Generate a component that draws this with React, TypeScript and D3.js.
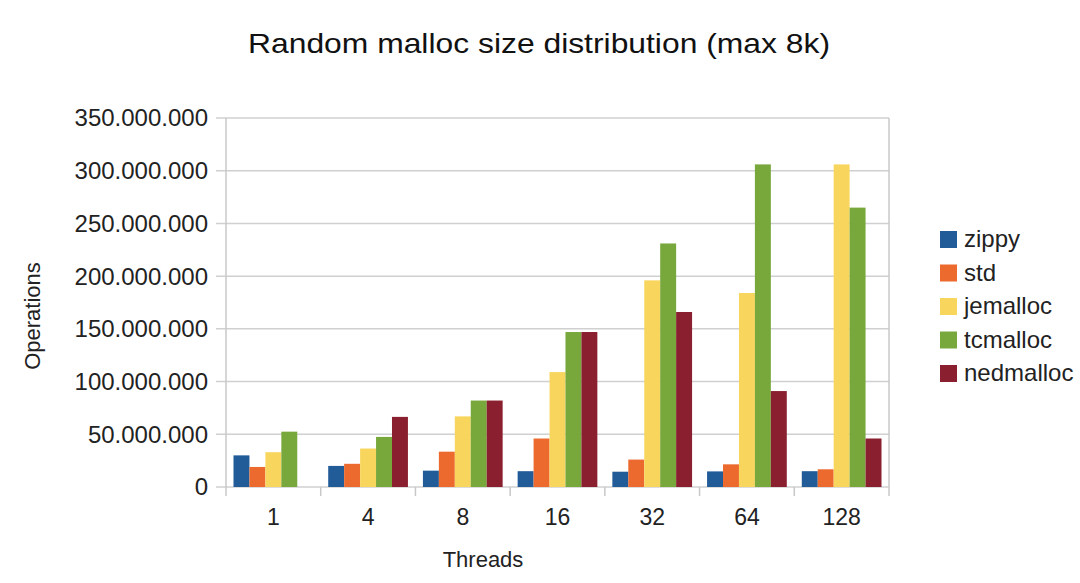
import { useRef, useEffect } from 'react';
import * as d3 from 'd3';

const threads = ['1', '4', '8', '16', '32', '64', '128'];
const seriesNames = ['zippy', 'std', 'jemalloc', 'tcmalloc', 'nedmalloc'];
const zippy = [30e6, 20e6, 15.5e6, 15e6, 14.5e6, 14.8e6, 15e6];
const std = [19e6, 22e6, 33.5e6, 46e6, 26e6, 21.5e6, 16.8e6];
const jemalloc = [33e6, 36.5e6, 67e6, 109e6, 196e6, 184e6, 306e6];
const tcmalloc = [52.5e6, 47.5e6, 82e6, 147e6, 231e6, 306e6, 265e6];
const nedmalloc = [0, 66.5e6, 82e6, 147e6, 166e6, 91e6, 46e6];
const colors = ['#215b98', '#ec6a2e', '#f8d65e', '#78a83c', '#8a1f2f'];
const yTicks = [0, 50e6, 100e6, 150e6, 200e6, 250e6, 300e6, 350e6];

export default function App() {
  const svgRef = useRef<SVGSVGElement>(null);

  useEffect(() => {
    const W = 1080;
    const H = 583;
    const left = 226;
    const top = 118;
    const w = 663;
    const h = 369;
    const font = '"Liberation Sans", Arial, sans-serif';

    const svg = d3.select(svgRef.current).attr('width', W).attr('height', H);
    svg.selectAll('*').remove();
    svg.append('rect').attr('width', W).attr('height', H).attr('fill', '#fff');

    const values = [zippy, std, jemalloc, tcmalloc, nedmalloc];
    const rows = threads.map((t, i) => ({
      t,
      vals: seriesNames.map((s, j) => ({ s, c: colors[j], v: values[j][i] })),
    }));

    const x0 = d3.scaleBand().domain(threads).range([0, w]);
    const bw = x0.bandwidth();
    const x1 = d3.scaleBand().domain(seriesNames).range([7.5, bw - 7.5]);
    const y = d3.scaleLinear().domain([0, 350e6]).range([h, 0]);

    const fmt = d3
      .formatLocale({ decimal: ',', thousands: '.', grouping: [3], currency: ['', ''] })
      .format(',d');

    const g = svg.append('g').attr('transform', `translate(${left},${top})`);

    // gridlines
    g.selectAll('.grid')
      .data(yTicks)
      .enter()
      .append('line')
      .attr('x1', -10)
      .attr('x2', w)
      .attr('y1', (d) => y(d))
      .attr('y2', (d) => y(d))
      .attr('stroke', '#d0d0d0')
      .attr('stroke-width', 1.5);

    // y labels
    g.selectAll('.ylab')
      .data(yTicks)
      .enter()
      .append('text')
      .attr('x', -18)
      .attr('y', (d) => y(d))
      .attr('dy', '0.35em')
      .attr('text-anchor', 'end')
      .style('font-family', font)
      .style('font-size', '24px')
      .attr('fill', '#222')
      .text((d) => fmt(d));

    // bars
    const grp = g
      .selectAll('.grp')
      .data(rows)
      .enter()
      .append('g')
      .attr('transform', (d) => `translate(${x0(d.t)},0)`);
    grp
      .selectAll('rect')
      .data((d) => d.vals)
      .enter()
      .append('rect')
      .attr('x', (d) => x1(d.s) as number)
      .attr('width', x1.bandwidth())
      .attr('y', (d) => y(d.v))
      .attr('height', (d) => h - y(d.v))
      .attr('fill', (d) => d.c);

    // axis frame
    g.append('line').attr('x1', 0).attr('x2', 0).attr('y1', 0).attr('y2', h)
      .attr('stroke', '#c8c8c8').attr('stroke-width', 1.5);
    g.append('line').attr('x1', w).attr('x2', w).attr('y1', 0).attr('y2', h + 9)
      .attr('stroke', '#c8c8c8').attr('stroke-width', 1.5);

    // x ticks at band boundaries
    const bounds = threads.map((t) => x0(t) as number);
    g.selectAll('.xt')
      .data(bounds)
      .enter()
      .append('line')
      .attr('x1', (d) => d)
      .attr('x2', (d) => d)
      .attr('y1', h)
      .attr('y2', h + 9)
      .attr('stroke', '#c8c8c8')
      .attr('stroke-width', 1.5);

    // x labels
    g.selectAll('.xlab')
      .data(threads)
      .enter()
      .append('text')
      .attr('x', (d) => (x0(d) as number) + bw / 2)
      .attr('y', h + 38)
      .attr('text-anchor', 'middle')
      .style('font-family', font)
      .style('font-size', '23px')
      .attr('fill', '#222')
      .text((d) => d);

    // title
    svg
      .append('text')
      .attr('x', 539)
      .attr('y', 53)
      .attr('text-anchor', 'middle')
      .attr('textLength', 582)
      .attr('lengthAdjust', 'spacingAndGlyphs')
      .style('font-family', font)
      .style('font-size', '28px')
      .attr('fill', '#111')
      .text('Random malloc size distribution (max 8k)');

    // axis titles
    svg
      .append('text')
      .attr('x', 483)
      .attr('y', 567)
      .attr('text-anchor', 'middle')
      .style('font-family', font)
      .style('font-size', '22px')
      .attr('fill', '#222')
      .text('Threads');
    svg
      .append('text')
      .attr('transform', 'translate(40,316) rotate(-90)')
      .attr('text-anchor', 'middle')
      .style('font-family', font)
      .style('font-size', '22px')
      .attr('fill', '#222')
      .text('Operations');

    // legend
    const lg = svg
      .selectAll('.leg')
      .data(seriesNames)
      .enter()
      .append('g')
      .attr('transform', (d, i) => `translate(940,${239 + i * 33.5})`);
    lg.append('rect')
      .attr('x', 0)
      .attr('y', -8)
      .attr('width', 17)
      .attr('height', 17)
      .attr('fill', (d, i) => colors[i]);
    lg.append('text')
      .attr('x', 24)
      .attr('dy', '0.35em')
      .style('font-family', font)
      .style('font-size', '24px')
      .attr('fill', '#222')
      .text((d) => d);
  }, []);

  return <svg ref={svgRef} style={{ position: 'absolute', left: 0, top: 0 }}></svg>;
}
